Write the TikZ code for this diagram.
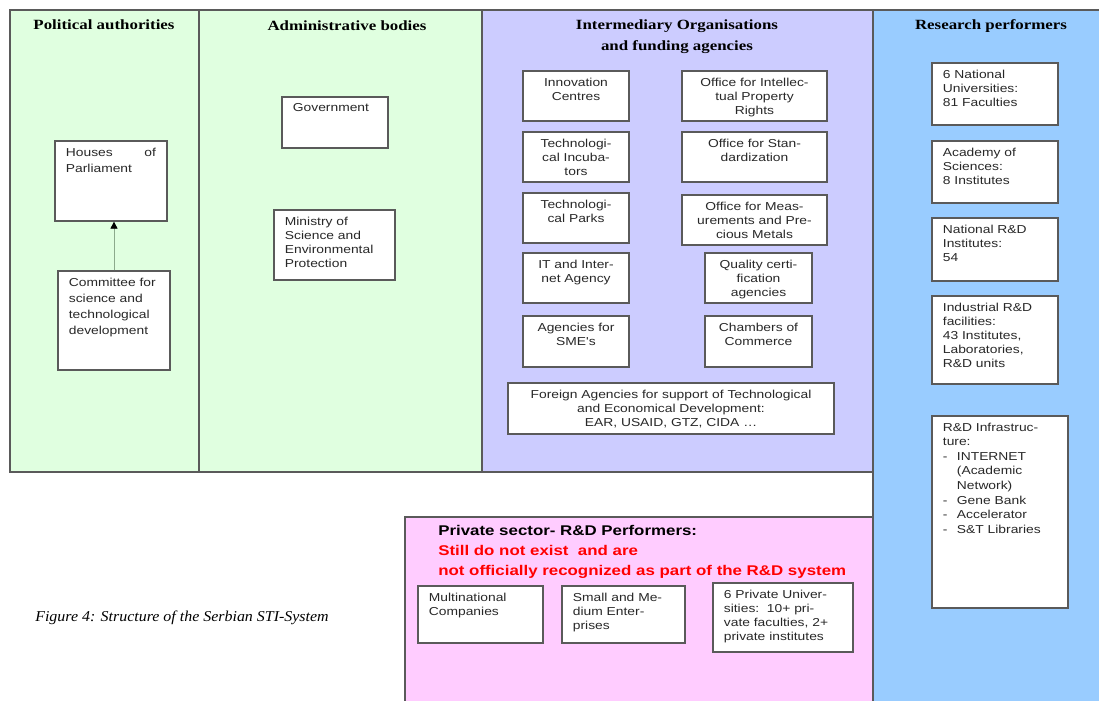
\documentclass[tikz,border=0pt]{standalone}
\usepackage{fontspec}
\setmainfont{Liberation Serif}
\newfontfamily\hdfont{Liberation Serif}[FakeStretch=1.2]
\newfontfamily\bxfont{Liberation Sans}[FakeStretch=1.2]
\newfontfamily\capfont{Liberation Serif}[FakeStretch=1.06]
\usetikzlibrary{fit,arrows.meta}

\definecolor{polgreen}{RGB}{224,255,224}
\definecolor{interlav}{RGB}{204,204,255}
\definecolor{resblue}{RGB}{153,204,255}
\definecolor{privpink}{RGB}{255,204,255}
\definecolor{edgegrey}{RGB}{90,90,90}
\definecolor{linkgreen}{RGB}{140,170,140}
\definecolor{alertred}{RGB}{255,0,0}
\definecolor{boxtext}{RGB}{40,40,40}

\begin{document}
\begin{tikzpicture}[
    x=0.025cm, y=-0.025cm,
    region/.style={draw=edgegrey, line width=0.8pt},
    box/.style={draw=edgegrey, line width=0.9pt, fill=white, inner sep=0pt},
    ltxt/.style={
        anchor=north west, align=left, inner xsep=8pt, inner ysep=5pt,
        text=boxtext, font=\bxfont\fontsize{8.2}{10}\selectfont
    },
    ctxt/.style={
        anchor=north, align=center, inner xsep=0pt, inner ysep=5pt,
        text=boxtext, font=\bxfont\fontsize{8.2}{10}\selectfont
    },
    head/.style={align=center, font=\hdfont\bfseries\fontsize{10}{15}\selectfont},
    link/.style={
        draw=linkgreen, line width=0.6pt,
        -{Triangle[color=black,width=5pt,length=5pt]}
    }
]

\useasboundingbox (0,0) rectangle (1099,700);
\clip (0,0) rectangle (1099,700);
\fill[white] (0,0) rectangle (1099,700);

% ------------------------------------------------
% Columns of the system
% ------------------------------------------------
\draw[region, fill=polgreen] (10,10) rectangle (199,472);
\draw[region, fill=polgreen] (199,10) rectangle (482,472);
\draw[region, fill=interlav] (482,10) rectangle (873,472);
\draw[region, fill=resblue]  (873,10) rectangle (1110,710);
\draw[region, fill=privpink] (405,517) rectangle (873,710);

\node[head] (hpol) at (104,25) {Political authorities};
\node[head] (hadm) at (347,26) {Administrative bodies};
\node[head] (hint) at (677,37) {Intermediary Organisations\\and funding agencies};
\node[head] (hres) at (991,26) {Research performers};

% ------------------------------------------------
% Political authorities
% ------------------------------------------------
\node[box, fit={(55,141) (167,221)},
    label={[ltxt, font=\bxfont\fontsize{8.2}{12}\selectfont]north west:{\hbox to 64pt{Houses\hfill of}\\Parliament}}] (parl) {};
\node[box, fit={(58,271) (170,370)},
    label={[ltxt, font=\bxfont\fontsize{8.2}{11.4}\selectfont]north west:{Committee for\\science and\\technological\\development}}] (comm) {};

\draw[link] (comm.north) -- (comm.north |- parl.south);

% ------------------------------------------------
% Administrative bodies
% ------------------------------------------------
\node[box, fit={(282,97) (388,148)},
    label={[ltxt]north west:{Government}}] (gov) {};
\node[box, fit={(274,210) (395,280)},
    label={[ltxt]north west:{Ministry of\\Science and\\Environmental\\Protection}}] (mins) {};

% ------------------------------------------------
% Intermediary organisations
% ------------------------------------------------
\node[box, fit={(523,71) (629,121)},
    label={[ctxt]north:{Innovation\\Centres}}] (innov) {};
\node[box, fit={(682,71) (827,121)},
    label={[ctxt]north:{Office for Intellec-\\tual Property\\Rights}}] (ipr) {};
\node[box, fit={(523,132) (629,182)},
    label={[ctxt]north:{Technologi-\\cal Incuba-\\tors}}] (incub) {};
\node[box, fit={(682,132) (827,182)},
    label={[ctxt]north:{Office for Stan-\\dardization}}] (stand) {};
\node[box, fit={(523,193) (629,243)},
    label={[ctxt]north:{Technologi-\\cal Parks}}] (parks) {};
\node[box, fit={(682,195) (827,245)},
    label={[ctxt]north:{Office for Meas-\\urements and Pre-\\cious Metals}}] (meas) {};
\node[box, fit={(523,253) (629,303)},
    label={[ctxt]north:{IT and Inter-\\net Agency}}] (itag) {};
\node[box, fit={(705,253) (812,303)},
    label={[ctxt]north:{Quality certi-\\fication\\agencies}}] (qual) {};
\node[box, fit={(523,316) (629,367)},
    label={[ctxt]north:{Agencies for\\SME's}}] (smeag) {};
\node[box, fit={(705,316) (812,367)},
    label={[ctxt]north:{Chambers of\\Commerce}}] (chamb) {};
\node[box, fit={(508,383) (834,434)},
    label={[ctxt]north:{Foreign Agencies for support of Technological\\and Economical Development:\\EAR, USAID, GTZ, CIDA \dots}}] (foreign) {};

% ------------------------------------------------
% Research performers
% ------------------------------------------------
\node[box, fit={(932,63) (1058,125)},
    label={[ltxt]north west:{6 National\\Universities:\\81 Faculties}}] (univ) {};
\node[box, fit={(932,141) (1058,203)},
    label={[ltxt]north west:{Academy of\\Sciences:\\8 Institutes}}] (acad) {};
\node[box, fit={(932,218) (1058,281)},
    label={[ltxt]north west:{National R\&D\\Institutes:\\54}}] (natrd) {};
\node[box, fit={(932,296) (1058,384)},
    label={[ltxt]north west:{Industrial R\&D\\facilities:\\43 Institutes,\\Laboratories,\\R\&D units}}] (indrd) {};
\node[box, fit={(932,416) (1068,608)},
    label={[ltxt, font=\bxfont\fontsize{8.2}{10.4}\selectfont]north west:{R\&D Infrastruc-\\ture:\\
        \makebox[10pt][l]{-}INTERNET\\\hspace*{10pt}(Academic\\\hspace*{10pt}Network)\\
        \makebox[10pt][l]{-}Gene Bank\\\makebox[10pt][l]{-}Accelerator\\
        \makebox[10pt][l]{-}S\&T Libraries}}] (infra) {};

% ------------------------------------------------
% Private sector
% ------------------------------------------------
\node[anchor=north west, align=left, inner sep=0pt,
    font=\bxfont\bfseries\fontsize{10}{14.2}\selectfont] (priv) at (438,525)
    {Private sector- R\&D Performers:\\
     \textcolor{alertred}{Still do not exist~~and are}\\
     \textcolor{alertred}{not officially recognized as part of the R\&D system}};

\node[box, fit={(418,586) (543,643)},
    label={[ltxt]north west:{Multinational\\Companies}}] (multi) {};
\node[box, fit={(562,586) (685,643)},
    label={[ltxt]north west:{Small and Me-\\dium Enter-\\prises}}] (smes) {};
\node[box, fit={(713,583) (853,652)},
    label={[ltxt]north west:{6 Private Univer-\\sities:~~10+ pri-\\vate faculties, 2+\\private institutes}}] (puniv) {};

% ------------------------------------------------
% Caption
% ------------------------------------------------
\node[font=\capfont\itshape\fontsize{10.7}{13}\selectfont] (capt) at (182,618)
    {Figure 4: Structure of the Serbian STI-System};

\end{tikzpicture}
\end{document}
